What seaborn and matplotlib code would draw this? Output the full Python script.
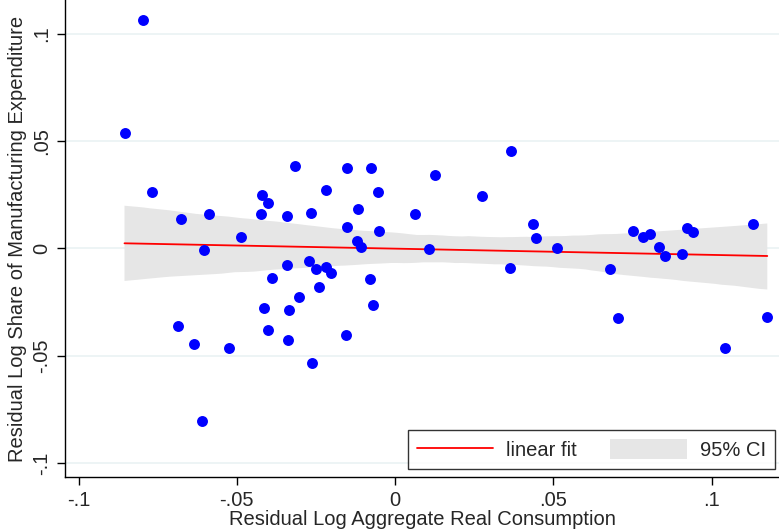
import matplotlib
matplotlib.use("Agg")
import matplotlib.pyplot as plt
import seaborn as sns
import numpy as np
import pandas as pd
from matplotlib.lines import Line2D
from matplotlib.patches import Patch

x_resid = [-0.0795, -0.0855, -0.0769, -0.0677, -0.0588, -0.0487, -0.0603, -0.0422,
           -0.0403, -0.0425, -0.0340, -0.0316, -0.0265, -0.0153, -0.0076, -0.0219,
           -0.0053, 0.0126, 0.0275, 0.0367, -0.0117, 0.0063, -0.0151, -0.0051,
           -0.0119, -0.0108, 0.0107, 0.0436, 0.0445, 0.0513, 0.0751, 0.0783,
           0.0806, 0.0834, 0.0923, 0.0941, 0.1132, -0.0343, -0.0272, -0.0251,
           -0.0388, -0.0242, -0.0305, -0.0415, -0.0336, -0.0685, -0.0402, -0.0636,
           -0.0524, -0.0338, -0.0262, -0.0611, -0.0219, -0.0203, -0.0080, -0.0071,
           -0.0156, 0.0362, 0.0852, 0.0908, 0.0680, 0.0705, 0.1042, 0.1176]
y_resid = [0.1063, 0.0540, 0.0262, 0.0136, 0.0162, 0.0052, -0.0007, 0.0251,
           0.0213, 0.0159, 0.0153, 0.0384, 0.0167, 0.0374, 0.0377, 0.0274,
           0.0262, 0.0341, 0.0245, 0.0453, 0.0183, 0.0159, 0.0099, 0.0083,
           0.0035, 0.0008, -0.0002, 0.0114, 0.0048, 0.0001, 0.0082, 0.0054,
           0.0069, 0.0007, 0.0097, 0.0075, 0.0113, -0.0075, -0.0057, -0.0097,
           -0.0139, -0.0178, -0.0227, -0.0279, -0.0288, -0.0363, -0.0381, -0.0444,
           -0.0462, -0.0428, -0.0534, -0.0805, -0.0085, -0.0116, -0.0142, -0.0262,
           -0.0403, -0.0091, -0.0035, -0.0026, -0.0097, -0.0325, -0.0462, -0.0319]

x_ticks = [-0.1, -0.05, 0, 0.05, 0.1]
x_tick_labels = ["-.1", "-.05", "0", ".05", ".1"]
y_ticks = [-0.1, -0.05, 0, 0.05, 0.1]
y_tick_labels = ["-.1", "-.05", "0", ".05", ".1"]
x_label = "Residual Log Aggregate Real Consumption"
y_label = "Residual Log Share of Manufacturing Expenditure"
legend_labels = ["linear fit", "95% CI"]

df = pd.DataFrame({"x": x_resid, "y": y_resid})

sns.set_style("white")
plt.rcParams["font.family"] = ["Liberation Sans", "DejaVu Sans"]

FS = 14.5

fig = plt.figure(figsize=(7.79, 5.31), dpi=100)
ax = fig.add_axes([65 / 779, 54 / 531, 714 / 779, 477 / 531])

ci_color = "#e6e6e6"
sns.regplot(data=df, x="x", y="y", ax=ax, ci=95, seed=0, truncate=True,
            scatter_kws=dict(color="#0000ff", s=62, alpha=1, linewidths=0, zorder=4),
            line_kws=dict(color="#ff0000", lw=1.3, zorder=3))

for coll in ax.collections:
    if isinstance(coll, matplotlib.collections.PolyCollection):
        coll.set_facecolor(ci_color)
        coll.set_edgecolor("none")
        coll.set_alpha(1)
        coll.set_zorder(2)

ax.set_xlim(-0.1043, 0.1213)
ax.set_ylim(-0.1065, 0.1158)
ax.set_xticks(x_ticks)
ax.set_xticklabels(x_tick_labels)
ax.set_yticks(y_ticks)
ax.set_yticklabels(y_tick_labels, rotation=90, va="center")
ax.tick_params(axis="both", direction="out", length=6, width=1, color="black",
               labelsize=FS, bottom=True, left=True, pad=4)
ax.grid(axis="y", color="#eaf2f3", lw=1.2, zorder=0)
ax.grid(axis="x", visible=False)
ax.set_axisbelow(True)

for side in ["top", "right"]:
    ax.spines[side].set_visible(False)
for side in ["left", "bottom"]:
    ax.spines[side].set_color("black")
    ax.spines[side].set_linewidth(1)

ax.set_xlabel(x_label, fontsize=FS, labelpad=0)
ax.set_ylabel(y_label, fontsize=FS, labelpad=4)

handles = [Line2D([0], [0], color="#ff0000", lw=1.3),
           Patch(facecolor=ci_color, edgecolor="none")]
leg = ax.legend(handles, legend_labels, loc="lower right", bbox_to_anchor=(0.9944, 0.0168),
                borderaxespad=0,
                ncol=2, fontsize=FS, frameon=True, fancybox=False,
                handlelength=3.8, handleheight=1.1, handletextpad=0.65,
                columnspacing=1.65, borderpad=0.45)
leg.get_frame().set_edgecolor("black")
leg.get_frame().set_linewidth(1)

fig.savefig("out.png", dpi=100)
